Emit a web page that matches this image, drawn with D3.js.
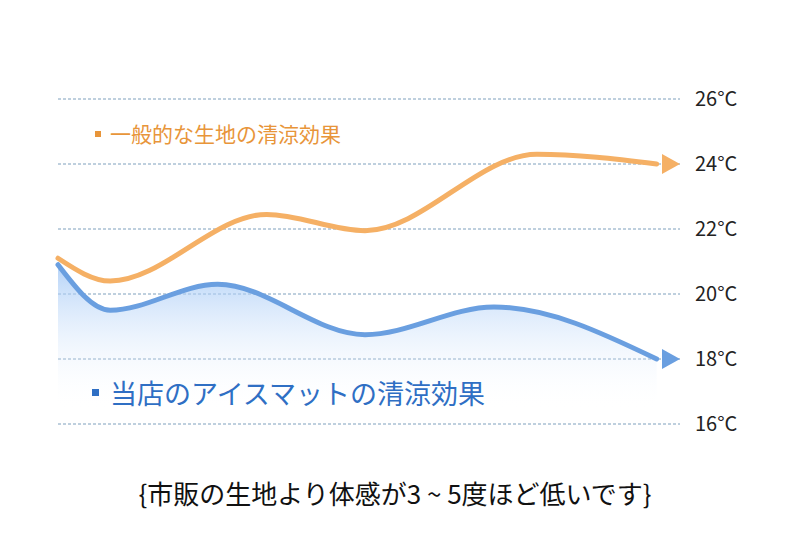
<!DOCTYPE html>
<html><head><meta charset="utf-8">
<script src="https://cdn.jsdelivr.net/npm/d3@7"></script>
<style>body{margin:0;background:#fff;font-family:"Noto Sans CJK JP","Noto Sans",sans-serif;}</style>
</head><body>
<svg id="chart" width="790" height="557"></svg>
<script>
// ticks and series (x = position along the period, 0..1)
var tickValues = [16, 18, 20, 22, 24, 26];
var normalFabric = [[0, 21.1], [0.085, 20.4], [0.34, 22.45], [0.5, 21.95], [0.78, 24.3], [0.975, 24.0], [1, 24.0]];
var iceMat = [[0, 20.9], [0.085, 19.5], [0.26, 20.3], [0.5, 18.75], [0.71, 19.6], [0.975, 18.0], [1, 18.0]];

var svg = d3.select('#chart');
var x = d3.scaleLinear().domain([0, 1]).range([58, 672]);
var y = d3.scaleLinear().domain([16, 26]).range([424, 99]);

var defs = svg.append('defs');
var grad = defs.append('linearGradient').attr('id', 'fade').attr('x1', 0).attr('x2', 0).attr('y1', 0).attr('y2', 1);
grad.append('stop').attr('offset', '0%').attr('stop-color', '#9cc4f5').attr('stop-opacity', 0.75);
grad.append('stop').attr('offset', '100%').attr('stop-color', '#ffffff').attr('stop-opacity', 0);

// grid
svg.selectAll('line.grid').data(tickValues).enter().append('line')
    .attr('x1', 58).attr('x2', 680)
    .attr('y1', function(d) { return y(d); }).attr('y2', function(d) { return y(d); })
    .attr('stroke', '#7fa0bd').attr('stroke-dasharray', '3,2').attr('stroke-width', 1);
svg.selectAll('text.tick').data(tickValues).enter().append('text')
    .attr('x', 695).attr('y', function(d) { return y(d) + 7; })
    .attr('font-size', 20).attr('fill', '#222')
    .text(function(d) { return d + '°C'; });

var curve = d3.curveMonotoneX;
var area = d3.area().x(function(d) { return x(d[0]); }).y0(410).y1(function(d) { return y(d[1]); }).curve(curve);
svg.append('path').datum(iceMat.slice(0, 6)).attr('d', area).attr('fill', 'url(#fade)');

var line = d3.line().x(function(d) { return x(d[0]); }).y(function(d) { return y(d[1]); }).curve(curve);

function drawSeries(data, color) {
    svg.append('path').datum(data.slice(0, 6)).attr('d', line)
        .attr('fill', 'none').attr('stroke', color).attr('stroke-width', 5).attr('stroke-linecap', 'round');
    var end = data[data.length - 1];
    var ex = x(end[0]) + 8, ey = y(end[1]);
    svg.append('path')
        .attr('d', 'M' + (ex - 18) + ',' + (ey - 10) + 'L' + ex + ',' + ey + 'L' + (ex - 18) + ',' + (ey + 10) + 'Z')
        .attr('fill', color);
}
drawSeries(normalFabric, '#f5b065');
drawSeries(iceMat, '#6a9fe0');

svg.append('rect').attr('x', 95).attr('y', 131).attr('width', 6).attr('height', 6).attr('fill', '#e8953a');
svg.append('text').attr('x', 110).attr('y', 142).attr('font-size', 21).attr('fill', '#e8953a').text('一般的な生地の清涼効果');
svg.append('rect').attr('x', 92).attr('y', 389).attr('width', 7).attr('height', 7).attr('fill', '#2f6fc4');
svg.append('text').attr('x', 110).attr('y', 404).attr('font-size', 27).attr('fill', '#2f6fc4').text('当店のアイスマットの清涼効果');

svg.append('text').attr('x', 395).attr('y', 504).attr('text-anchor', 'middle')
    .attr('font-size', 26).attr('fill', '#111').text('{市販の生地より体感が3 ~ 5度ほど低いです}');
</script>
</body></html>
